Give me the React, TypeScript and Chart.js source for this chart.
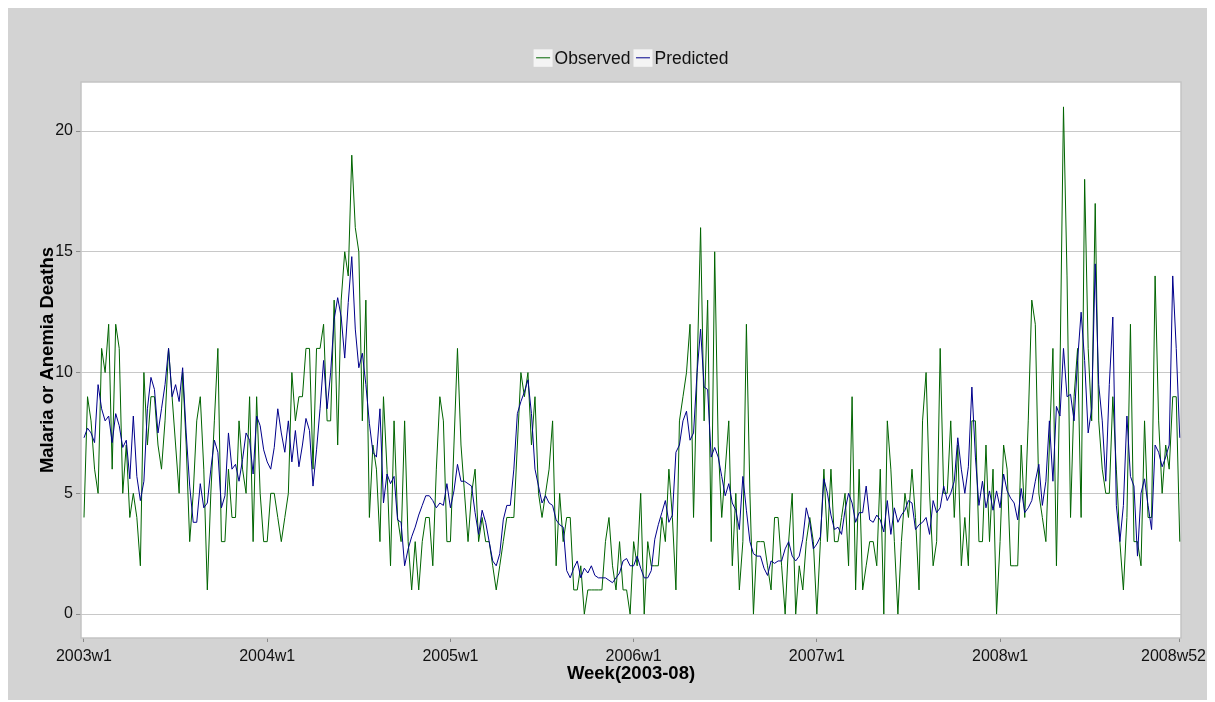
import { useEffect, useRef } from "react";
import { Chart, registerables } from "chart.js";

Chart.register(...registerables);

// Weekly counts, 52 weeks per year
const obs2003 = [4,9,8,6,5,11,10,12,6,12, 11,5,7,4,5,4,2,10,7,9, 9,7,6,8,11,9,7,5,10,7, 3,5,8,9,6,1,5,8,11,3, 3,6,4,4,8,6,5,9,3,9, 5,3];
const obs2004 = [3,5,5,4,3,4,5,10,8,9, 9,11,11,6,11,11,12,8,8,13, 7,13,15,14,19,16,15,8,13,4, 7,6,3,9,6,2,8,4,3,8, 3,1,3,1,3,4,4,2,6,9, 8,3];
const obs2005 = [3,7,11,7,5,3,5,6,3,4, 3,3,2,1,2,3,4,4,4,7, 10,9,10,7,9,5,4,5,6,8, 2,5,3,4,4,1,1,2,0,1, 1,1,1,1,3,4,2,1,3,1, 1,0];
const obs2006 = [3,2,5,0,3,2,2,2,4,3, 6,4,1,8,9,10,12,4,10,16, 8,13,3,15,7,4,6,8,2,5, 1,3,12,5,0,3,3,3,2,1, 4,4,2,0,3,5,0,2,1,3, 4,3];
const obs2007 = [0,3,6,3,6,3,3,4,5,2, 9,1,6,1,2,3,3,2,6,0, 8,6,3,0,3,5,4,6,4,1, 8,10,5,2,3,11,5,5,8,4, 7,2,4,2,8,8,3,3,7,3, 6,0];
const obs2008 = [3,7,6,2,2,2,7,4,8,13, 12,5,4,3,7,11,2,10,21,14, 4,9,11,4,18,11,8,17,8,6, 5,5,9,6,3,1,4,12,3,3, 2,8,4,4,14,8,5,7,6,9, 9,3];

const pred2003 = [7.3,7.7,7.5,7.1,9.5,8.5,8.0,8.2,7.1,8.3, 7.8,6.9,7.2,5.6,8.2,5.7,4.7,5.5,8.5,9.8, 9.3,7.5,8.5,9.5,11,9,9.5,8.8,10.2,7.5, 5.3,3.8,3.8,5.4,4.4,4.6,6.0,7.2,6.7,4.4, 4.9,7.5,6,6.2,5.5,6.4,7.5,7.2,5.8,8.2, 7.8,6.8];
const pred2004 = [6.3,6.0,6.9,8.5,7.5,6.7,8,6.3,7.6,6.1, 7,8.1,7.6,5.3,6.8,8.5,10.5,8.5,10,12.2, 13.1,12.3,10.6,12.9,14.8,11.8,10.2,10.8,9.5,7.9, 6.7,6.5,8.5,4.6,5.8,5.4,5.7,3.9,3.8,2.0, 2.7,3.2,3.6,4.1,4.5,4.9,4.9,4.7,4.4,4.6, 4.5,5.4];
const pred2005 = [4.4,5.1,6.2,5.5,5.5,5.4,5.3,4.2,3.3,4.3, 3.8,3.0,2.2,2.0,2.5,3.9,4.5,4.5,6.0,8.3, 8.8,9.2,9.7,8.3,6.0,5.3,4.6,4.9,4.6,4.5, 3.9,3.7,3.6,1.8,1.5,1.9,2.2,1.5,1.9,1.7, 2.0,1.6,1.5,1.5,1.5,1.4,1.3,1.5,1.7,2.2, 2.3,2.0];
const pred2006 = [2.0,2.4,1.9,1.5,1.5,1.8,3.1,3.7,4.2,4.7, 3.8,4.1,6.7,7.0,8.0,8.4,7.2,7.5,10.0,11.8, 9.4,9.3,6.5,6.9,6.5,5.7,4.9,5.4,4.6,4.3, 3.5,5.7,4.3,3.0,2.5,2.4,2.4,1.9,1.6,2.2, 2.1,2.2,2.2,2.7,3.0,2.4,2.2,2.4,3.1,4.4, 3.8,2.7];
const pred2007 = [2.9,3.2,5.6,5.0,4.1,3.5,3.6,3.3,4.3,5.0, 4.6,3.8,4.2,4.2,5.3,3.9,3.8,4.1,3.9,3.4, 4.7,3.3,4.4,3.8,4.1,4.3,4.7,4.6,3.5,3.7, 3.8,4.0,3.3,4.7,4.2,4.4,5.3,4.7,5.0,5.5, 7.3,6.0,5.0,6.1,9.4,6.5,4.5,5.5,4.4,5.1, 4.3,5.1];
const pred2008 = [4.4,5.8,5.1,4.8,4.6,3.9,5.2,4.2,4.4,4.7, 5.5,6.2,4.5,5.5,8.0,5.5,8.6,8.2,11.0,9.0, 9.1,8.0,10.5,12.5,10.5,7.5,8.5,14.5,9.5,8.0, 5.5,9.5,12.3,4.5,3.0,4.5,8.2,5.7,5.3,2.4, 5.0,5.6,4.5,3.5,7.0,6.7,6.1,6.5,7.0,14.0, 11.0,7.3];

const tickWeeks = [0, 52, 104, 156, 208, 260, 311];
const tickLabels = ["2003w1", "2004w1", "2005w1", "2006w1", "2007w1", "2008w1", "2008w52"];
const yTickValues = [0, 5, 10, 15, 20];

const seriesNames = ["Observed", "Predicted"];
const seriesColors = ["#006400", "#00008b"];

const FONT = '"Liberation Sans", Arial, sans-serif';

export default function App() {
  const ref = useRef<HTMLCanvasElement>(null);

  useEffect(() => {
    const canvas = ref.current;
    if (!canvas) return;
    const observed = [...obs2003, ...obs2004, ...obs2005, ...obs2006, ...obs2007, ...obs2008];
    const predicted = [...pred2003, ...pred2004, ...pred2005, ...pred2006, ...pred2007, ...pred2008];
    const toPts = (arr: number[]) => arr.map((y, i) => ({ x: i, y }));
    const lastIdx = tickWeeks.length - 1;

    const panelPlugin = {
      id: "panel",
      beforeDraw(chart: any) {
        const { ctx, chartArea } = chart;
        const { left, top, right, bottom } = chartArea;
        ctx.save();
        ctx.fillStyle = "#ffffff";
        ctx.fillRect(left, top, right - left, bottom - top);
        ctx.restore();
      },
      beforeDatasetsDraw(chart: any) {
        const { ctx, chartArea } = chart;
        const { left, top, right, bottom } = chartArea;
        ctx.save();
        ctx.strokeStyle = "#c4c4c4";
        ctx.lineWidth = 1.5;
        ctx.strokeRect(left, top, right - left, bottom - top);
        ctx.restore();
      },
      afterDraw(chart: any) {
        const { ctx, chartArea } = chart;
        const cx = (chartArea.left + chartArea.right) / 2;
        ctx.save();
        // legend
        ctx.font = `17.5px ${FONT}`;
        const boxW = 19, boxH = 17.5, gap = 2, spacing = 3;
        const widths = seriesNames.map((n) => ctx.measureText(n).width);
        const total = widths.reduce((a, w) => a + boxW + gap + w, 0) + spacing * (seriesNames.length - 1);
        let x = cx - total / 2;
        const boxTop = 41.3;
        const textY = 51.5;
        seriesNames.forEach((name, k) => {
          ctx.fillStyle = "#f4f4f4";
          ctx.fillRect(x, boxTop, boxW, boxH);
          ctx.strokeStyle = seriesColors[k];
          ctx.lineWidth = 1;
          ctx.beginPath();
          ctx.moveTo(x + 2.5, boxTop + 8.5);
          ctx.lineTo(x + 16.5, boxTop + 8.5);
          ctx.stroke();
          ctx.fillStyle = "#111111";
          ctx.textBaseline = "middle";
          ctx.textAlign = "left";
          ctx.fillText(name, x + boxW + gap, textY);
          x += boxW + gap + widths[k] + spacing;
        });

        // last x tick label, kept inside the canvas
        const xs = chart.scales.x;
        const items = xs._labelItems;
        const first = items && items[0];
        ctx.font = `16px ${FONT}`;
        ctx.fillStyle = "#111111";
        const label = tickLabels[lastIdx];
        const w = ctx.measureText(label).width;
        const px = xs.getPixelForValue(tickWeeks[lastIdx]);
        const lx = Math.min(px - w / 2, chart.width - 1 - w);
        if (first) {
          ctx.textBaseline = first.options.textBaseline;
          ctx.textAlign = "left";
          ctx.fillText(label, lx, first.options.translation[1] + first.textOffset);
        } else {
          ctx.textBaseline = "top";
          ctx.textAlign = "left";
          ctx.fillText(label, lx, xs.top + 9);
        }
        ctx.restore();
      },
    };

    const chart = new Chart(canvas, {
      type: "line",
      data: {
        datasets: [
          {
            label: seriesNames[0],
            data: toPts(observed),
            borderColor: seriesColors[0],
            borderWidth: 1,
            pointRadius: 0,
            tension: 0,
            fill: false,
            order: 2,
          },
          {
            label: seriesNames[1],
            data: toPts(predicted),
            borderColor: seriesColors[1],
            borderWidth: 1,
            pointRadius: 0,
            tension: 0,
            fill: false,
            order: 1,
          },
        ],
      },
      options: {
        responsive: false,
        animation: false,
        events: [],
        layout: { padding: { top: 74, right: 26, left: 0, bottom: 0 } },
        plugins: {
          legend: { display: false },
          tooltip: { enabled: false },
          title: { display: false },
        },
        scales: {
          x: {
            type: "linear",
            min: -0.85,
            max: 311.35,
            afterBuildTicks: (scale: any) => {
              scale.ticks = tickWeeks.map((v) => ({ value: v }));
            },
            afterFit: (scale: any) => {
              scale.height = 62;
              scale.paddingLeft = 0;
              scale.paddingRight = 0;
            },
            grid: {
              drawOnChartArea: false,
              drawTicks: true,
              tickLength: 4,
              tickColor: "#8a8a8a",
            },
            border: { display: false },
            ticks: {
              autoSkip: false,
              maxRotation: 0,
              minRotation: 0,
              padding: 5,
              color: "#111111",
              font: { family: FONT, size: 16 },
              callback: (value: any) => {
                const idx = tickWeeks.indexOf(Number(value));
                if (idx === lastIdx) return "";
                return idx >= 0 ? tickLabels[idx] : "";
              },
            },
            title: {
              display: true,
              text: "Week(2003-08)",
              color: "#000000",
              font: { family: FONT, size: 18.5, weight: "bold" },
              padding: { top: 0, bottom: 15 },
            },
          },
          y: {
            type: "linear",
            min: -0.99,
            max: 22.03,
            afterBuildTicks: (scale: any) => {
              scale.ticks = yTickValues.map((v) => ({ value: v }));
            },
            afterFit: (scale: any) => {
              scale.width = 73;
              scale.paddingTop = 0;
              scale.paddingBottom = 0;
            },
            grid: {
              color: "#c8c8c8",
              lineWidth: 1,
              drawTicks: true,
              tickLength: 5,
              tickColor: "#8a8a8a",
            },
            border: { display: false },
            ticks: {
              padding: 3,
              color: "#111111",
              font: { family: FONT, size: 16 },
              callback: (value: any) => String(value),
            },
            title: {
              display: true,
              text: "Malaria or Anemia Deaths",
              color: "#000000",
              font: { family: FONT, size: 18.5, weight: "bold" },
              padding: { top: 29, bottom: 0 },
            },
          },
        },
      },
      plugins: [panelPlugin],
    });

    return () => chart.destroy();
  }, []);

  return (
    <div style={{ width: 1199, height: 692, background: "#d3d3d3" }}>
      <canvas ref={ref} width={1199} height={692} style={{ display: "block" }} />
    </div>
  );
}
